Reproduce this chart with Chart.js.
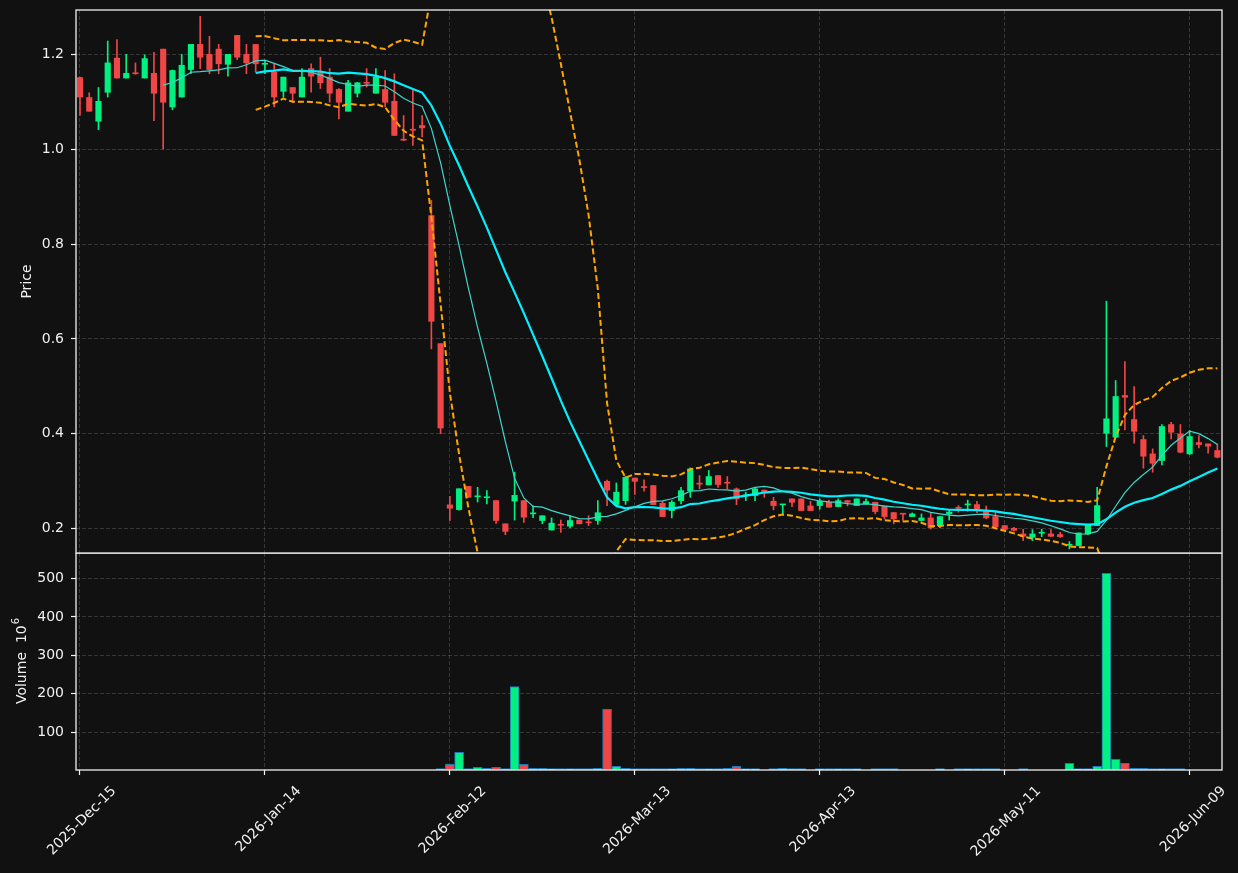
<!DOCTYPE html>
<html>
<head>
<meta charset="utf-8">
<script src="https://cdn.jsdelivr.net/npm/chart.js@4.4.1/dist/chart.umd.min.js"></script>
<style>
  html, body { margin: 0; padding: 0; background: #111111; overflow: hidden; }
  #wrap { position: relative; width: 1238px; height: 873px; background: #111111; }
  #price { position: absolute; left: 0; top: 0; }
  #volume { position: absolute; left: 0; top: 553px; }
</style>
</head>
<body>
<div id="wrap">
  <canvas id="price" width="1238" height="560"></canvas>
  <canvas id="volume" width="1238" height="320"></canvas>
</div>
<script>
// x axis is the bar index (trading days), labels every 20 bars
const tickLabels = ['2025-Dec-15', '2026-Jan-14', '2026-Feb-12', '2026-Mar-13', '2026-Apr-13', '2026-May-11', '2026-Jun-09'];

const opens = [
  1.151, 1.109, 1.059, 1.120, 1.192, 1.150, 1.161, 1.150, 1.160, 1.211,
  1.089, 1.110, 1.168, 1.221, 1.200, 1.211, 1.179, 1.240, 1.200, 1.221,
  1.179, 1.163, 1.122, 1.130, 1.110, 1.170, 1.163, 1.152, 1.126, 1.080,
  1.118, 1.141, 1.118, 1.126, 1.101, 1.021, 1.042, 1.050, 0.860, 0.590,
  0.250, 0.240, 0.289, 0.267, 0.265, 0.259, 0.210, 0.258, 0.259, 0.231,
  0.217, 0.197, 0.209, 0.205, 0.218, 0.213, 0.217, 0.2996, 0.2506, 0.259,
  0.3066, 0.2885, 0.2907, 0.2534, 0.238, 0.259, 0.280, 0.295, 0.2922, 0.3118,
  0.2971, 0.2837, 0.269, 0.2696, 0.281, 0.2576, 0.2499, 0.2626, 0.2626, 0.2477,
  0.2485, 0.2555, 0.2463, 0.259, 0.2485, 0.252, 0.2555, 0.2477, 0.2338, 0.2317,
  0.2253, 0.217, 0.2225, 0.2063, 0.2309, 0.2442, 0.2499, 0.2506, 0.238, 0.2253,
  0.2063, 0.2007, 0.1887, 0.1816, 0.1901, 0.1887, 0.1873, 0.1649, 0.1641, 0.1887,
  0.2063, 0.401, 0.3927, 0.4806, 0.430, 0.3878, 0.3575, 0.3435, 0.4194, 0.3997,
  0.3575, 0.3814, 0.3786, 0.3646
];
const highs = [
  1.152, 1.119, 1.130, 1.228, 1.231, 1.200, 1.182, 1.199, 1.204, 1.211,
  1.167, 1.200, 1.221, 1.280, 1.238, 1.221, 1.200, 1.240, 1.221, 1.221,
  1.187, 1.180, 1.152, 1.130, 1.170, 1.180, 1.194, 1.170, 1.128, 1.145,
  1.141, 1.170, 1.170, 1.166, 1.159, 1.071, 1.128, 1.071, 0.892, 0.590,
  0.268, 0.284, 0.289, 0.287, 0.280, 0.259, 0.210, 0.319, 0.259, 0.248,
  0.227, 0.2225, 0.218, 0.227, 0.218, 0.227, 0.259, 0.302, 0.2963, 0.310,
  0.3066, 0.3027, 0.2907, 0.2576, 0.259, 0.287, 0.328, 0.3118, 0.3224, 0.3118,
  0.3097, 0.2858, 0.2766, 0.2872, 0.2816, 0.266, 0.2513, 0.2626, 0.2626, 0.2576,
  0.2626, 0.260, 0.2626, 0.259, 0.2626, 0.2626, 0.2555, 0.2477, 0.2338, 0.2317,
  0.233, 0.2309, 0.2345, 0.2253, 0.238, 0.2485, 0.260, 0.2576, 0.2477, 0.2352,
  0.2063, 0.2028, 0.1986, 0.1979, 0.1986, 0.1979, 0.1922, 0.1726, 0.1908, 0.2078,
  0.2872, 0.6795, 0.5122, 0.5523, 0.4996, 0.3962, 0.3681, 0.4194, 0.4243, 0.4194,
  0.4068, 0.3962, 0.3786, 0.3786
];
const lows = [
  1.071, 1.080, 1.041, 1.110, 1.150, 1.150, 1.158, 1.150, 1.060, 1.000,
  1.083, 1.110, 1.159, 1.170, 1.159, 1.159, 1.154, 1.189, 1.159, 1.163,
  1.159, 1.089, 1.110, 1.099, 1.110, 1.120, 1.128, 1.099, 1.064, 1.080,
  1.110, 1.131, 1.118, 1.089, 1.029, 1.018, 1.008, 1.026, 0.579, 0.400,
  0.217, 0.239, 0.266, 0.256, 0.252, 0.211, 0.187, 0.218, 0.213, 0.223,
  0.210, 0.197, 0.192, 0.202, 0.210, 0.206, 0.209, 0.2485, 0.249, 0.251,
  0.272, 0.2788, 0.2506, 0.2253, 0.2225, 0.252, 0.266, 0.2837, 0.2922, 0.2866,
  0.2837, 0.2506, 0.259, 0.259, 0.266, 0.2395, 0.2309, 0.2463, 0.238, 0.238,
  0.2407, 0.2449, 0.2463, 0.2477, 0.2485, 0.252, 0.2309, 0.2204, 0.210, 0.217,
  0.2253, 0.2155, 0.199, 0.2017, 0.218, 0.2345, 0.2366, 0.2338, 0.2204, 0.2032,
  0.1983, 0.1943, 0.1747, 0.1747, 0.183, 0.1837, 0.1816, 0.1571, 0.1634, 0.1873,
  0.2063, 0.373, 0.3927, 0.4082, 0.380, 0.3273, 0.3188, 0.3343, 0.3892, 0.3596,
  0.3561, 0.3702, 0.3589, 0.3491
];
const closes = [
  1.110, 1.080, 1.101, 1.182, 1.150, 1.160, 1.159, 1.191, 1.118, 1.099,
  1.166, 1.177, 1.221, 1.194, 1.168, 1.180, 1.200, 1.194, 1.182, 1.180,
  1.181, 1.110, 1.152, 1.118, 1.152, 1.154, 1.140, 1.118, 1.099, 1.140,
  1.140, 1.139, 1.152, 1.099, 1.029, 1.019, 1.040, 1.045, 0.637, 0.412,
  0.243, 0.284, 0.266, 0.269, 0.267, 0.217, 0.194, 0.270, 0.224, 0.233,
  0.227, 0.2115, 0.207, 0.217, 0.210, 0.212, 0.2335, 0.281, 0.2768, 0.308,
  0.2996, 0.2865, 0.2506, 0.2253, 0.2555, 0.280, 0.3259, 0.2936, 0.3097, 0.2929,
  0.2957, 0.2626, 0.2703, 0.2837, 0.2766, 0.2485, 0.2513, 0.2555, 0.238, 0.238,
  0.2576, 0.2449, 0.259, 0.2555, 0.2626, 0.257, 0.2359, 0.2253, 0.2204, 0.2303,
  0.2309, 0.2225, 0.2017, 0.2253, 0.2345, 0.2428, 0.2513, 0.2414, 0.2225, 0.2032,
  0.1983, 0.1964, 0.1837, 0.1887, 0.1915, 0.1837, 0.183, 0.1663, 0.1908, 0.2078,
  0.2485, 0.4314, 0.4785, 0.477, 0.4053, 0.3526, 0.3378, 0.4152, 0.4032, 0.361,
  0.3941, 0.3772, 0.3737, 0.3505
];
// volume in millions, null where no bar is drawn
const volumes = [
  null, null, null, null, null, null, null, null, null, null,
  null, null, null, null, null, null, null, null, null, null,
  null, null, null, null, null, null, null, null, null, null,
  null, null, null, null, null, null, null, null, null, 3,
  16.8, 48, 5.4, 9, 6.4, 9, 3, 219, 16.8, 6.4,
  6.4, 3, 3, 3, 3, 3, 6.4, 160, 11.6, 6.4,
  3, 3, 3, 3, 3, 6.4, 6.4, 3, 3, 3,
  6.4, 11.6, 3, 3, null, 3, 6.4, 3, 3, null,
  3, 3, 3, 3, 3, null, 3, 3, 3, null,
  null, null, null, 3, null, 3, 3, 3, 3, 3,
  null, null, 3, null, null, null, null, 19.4, 3, 3,
  11.6, 513, 29.8, 19.4, 6.4, 6.4, 3, 3, 3, 3,
  null, null, null, null
];

const UP = '#00f082';
const DOWN = '#f04646';
const GRID = 'rgba(255,255,255,0.2)';
const FG = '#f0f0f0';

const colors = closes.map((c, i) => c >= opens[i] ? UP : DOWN);

// moving averages and bollinger bands on the closes (10 and 20 bars, 2 sd)
function rolling(arr, n, fn) {
  return arr.map((_, i) => i < n - 1 ? null : fn(arr.slice(i - n + 1, i + 1)));
}
const mean = a => a.reduce((s, v) => s + v, 0) / a.length;
const sdev = a => {
  const m = mean(a);
  return Math.sqrt(a.reduce((s, v) => s + (v - m) * (v - m), 0) / (a.length - 1));
};
const ma10 = rolling(closes, 10, mean);
const ma20 = rolling(closes, 20, mean);
const sd20 = rolling(closes, 20, sdev);
const bbUpper = ma20.map((m, i) => m === null ? null : m + 2 * sd20[i]);
const bbLower = ma20.map((m, i) => m === null ? null : m - 2 * sd20[i]);

const pts = arr => arr.map((v, i) => ({ x: i, y: v }));

Chart.defaults.font.family = '"DejaVu Sans", sans-serif';
Chart.defaults.font.size = 14;
Chart.defaults.color = FG;
Chart.defaults.animation = false;

// panel frame and rotated axis title
const frame = {
  id: 'frame',
  afterDraw(chart, args, opts) {
    const { ctx, chartArea: a } = chart;
    ctx.save();
    ctx.strokeStyle = FG;
    ctx.lineWidth = 1.3;
    ctx.strokeRect(a.left, a.top, a.right - a.left, a.bottom - a.top);
    ctx.fillStyle = FG;
    ctx.translate(opts.x, (a.top + a.bottom) / 2);
    ctx.rotate(-Math.PI / 2);
    ctx.textBaseline = 'middle';
    ctx.font = '14px "DejaVu Sans"';
    const w = ctx.measureText(opts.title).width;
    let sw = 0;
    if (opts.sup) {
      ctx.font = '10px "DejaVu Sans"';
      sw = ctx.measureText(opts.sup).width;
    }
    const x0 = -(w + sw) / 2;
    ctx.font = '14px "DejaVu Sans"';
    ctx.textAlign = 'left';
    ctx.fillText(opts.title, x0, 0);
    if (opts.sup) {
      ctx.font = '10px "DejaVu Sans"';
      ctx.fillText(opts.sup, x0 + w + 1, -6);
    }
    ctx.restore();
  }
};

function xAxis(labels) {
  return {
    type: 'linear',
    min: -0.43,
    max: 123.5,
    offset: false,
    grid: { offset: false, color: GRID, lineWidth: 0.8, drawTicks: labels, tickLength: 5, tickColor: FG, tickWidth: 1.2 },
    border: { display: false, dash: [4, 2] },
    ticks: {
      display: labels,
      stepSize: 20,
      includeBounds: false,
      autoSkip: false,
      minRotation: 45,
      maxRotation: 45,
      labelOffset: 34,
      padding: 8,
      callback: v => tickLabels[Math.round(v / 20)]
    },
    afterFit: s => { s.height = labels ? 103 : 0; s.paddingLeft = 0; s.paddingRight = 0; }
  };
}

new Chart(document.getElementById('price'), {
  type: 'bar',
  data: {
    datasets: [
      { type: 'line', label: 'MA10', data: pts(ma10), borderColor: '#3fd6cc', borderWidth: 1.2, pointRadius: 0, order: 0 },
      { type: 'line', label: 'MA20', data: pts(ma20), borderColor: '#00f0ff', borderWidth: 2.2, pointRadius: 0, order: 0 },
      { type: 'line', label: 'BB upper', data: pts(bbUpper), borderColor: '#ffa500', borderWidth: 2, borderDash: [6, 3], pointRadius: 0, order: 0 },
      { type: 'line', label: 'BB lower', data: pts(bbLower), borderColor: '#ffa500', borderWidth: 2, borderDash: [6, 3], pointRadius: 0, order: 0 },
      {
        label: 'body', data: closes.map((c, i) => ({ x: i, y: [opens[i], c] })),
        backgroundColor: colors, barThickness: 5.5, minBarLength: 1, grouped: false, order: 1
      },
      {
        label: 'wick', data: closes.map((c, i) => ({ x: i, y: [lows[i], highs[i]] })),
        backgroundColor: colors, barThickness: 1, grouped: false, order: 2
      }
    ]
  },
  options: {
    responsive: false,
    layout: { autoPadding: false, padding: { top: 10, right: 16, bottom: 7, left: 0 } },
    plugins: { legend: { display: false }, tooltip: { enabled: false }, frame: { title: 'Price', x: 27 } },
    scales: {
      x: xAxis(false),
      y: {
        min: 0.1485,
        max: 1.2935,
        grid: { color: GRID, lineWidth: 0.8, tickLength: 5, tickColor: FG, tickWidth: 1.2 },
        border: { display: false, dash: [4, 2] },
        ticks: { stepSize: 0.2, includeBounds: false, padding: 7, callback: v => v.toFixed(1) },
        afterFit: s => { s.width = 76; s.paddingTop = 0; s.paddingBottom = 0; }
      }
    }
  },
  plugins: [frame]
});

new Chart(document.getElementById('volume'), {
  type: 'bar',
  data: {
    datasets: [{
      label: 'Volume',
      data: volumes.map((v, i) => ({ x: i, y: v })),
      backgroundColor: colors,
      borderColor: '#1f77b4',
      borderWidth: 1,
      barThickness: 9,
      minBarLength: 1.5
    }]
  },
  options: {
    responsive: false,
    layout: { autoPadding: false, padding: { top: 0, right: 16, bottom: 0, left: 0 } },
    plugins: { legend: { display: false }, tooltip: { enabled: false }, frame: { title: 'Volume  10', sup: '6', x: 22 } },
    scales: {
      x: xAxis(true),
      y: {
        min: 2,
        max: 566,
        grid: { color: GRID, lineWidth: 0.8, tickLength: 5, tickColor: FG, tickWidth: 1.2 },
        border: { display: false, dash: [4, 2] },
        ticks: { stepSize: 100, includeBounds: false, padding: 7 },
        afterFit: s => { s.width = 76; s.paddingTop = 0; s.paddingBottom = 0; }
      }
    }
  },
  plugins: [frame]
});
</script>
</body>
</html>
